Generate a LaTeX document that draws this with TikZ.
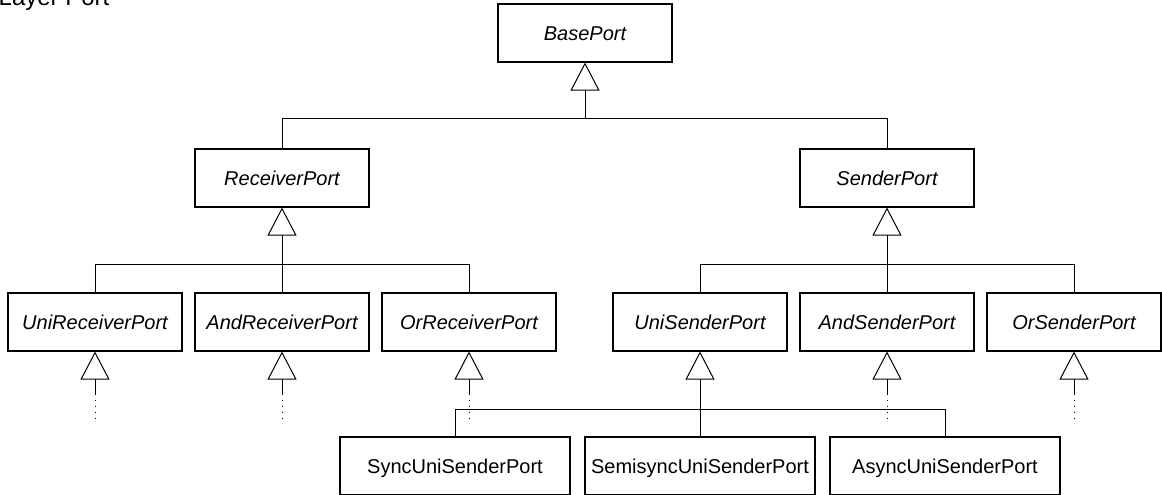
\documentclass[tikz,border=0pt]{standalone}
\usepackage{fontspec}
\setmainfont{Liberation Sans}
\usetikzlibrary{arrows.meta}
\tikzset{
  cls/.style={draw, line width=1.1pt, minimum width=174pt, minimum height=58pt,
    inner sep=0pt, font=\fontsize{20}{24}\selectfont, text height=14.3pt, text depth=0pt},
  abstract/.style={cls, font=\fontsize{20}{24}\selectfont\itshape},
  wide/.style={minimum width=230pt},
  link/.style={line width=1pt},
  inherit/.style={link, -{Triangle[open, length=28pt, width=29pt, line width=1pt]}},
  more/.style={line width=1pt, dash pattern=on 1pt off 5pt}
}
\begin{document}
\begin{tikzpicture}[x=1pt, y=-1pt]
\useasboundingbox (0,0) rectangle (1162,495);

\node[anchor=base west, font=\fontsize{24}{28}\selectfont, inner sep=0pt] (title) at (-1.5,6) {Layer Port};

% class boxes
\node[abstract] (base) at (585,33) {BasePort};
\node[abstract] (recv) at (282,178) {ReceiverPort};
\node[abstract] (send) at (887,178) {SenderPort};
\node[abstract] (urecv) at (95,322) {UniReceiverPort};
\node[abstract] (arecv) at (282,322) {AndReceiverPort};
\node[abstract] (orecv) at (469,322) {OrReceiverPort};
\node[abstract] (usend) at (700,322) {UniSenderPort};
\node[abstract] (asend) at (887,322) {AndSenderPort};
\node[abstract] (osend) at (1074,322) {OrSenderPort};
\node[cls, wide] (sync) at (455,466) {SyncUniSenderPort};
\node[cls, wide] (semi) at (700,466) {SemisyncUniSenderPort};
\node[cls, wide] (async) at (945,466) {AsyncUniSenderPort};

% junction points of the generalisation trees
\coordinate (baseJ) at (585,118);
\coordinate (recvJ) at (282,264);
\coordinate (sendJ) at (887,264);
\coordinate (usendJ) at (700,409);

\draw[inherit] (baseJ) -- (base.south);
\draw[link] (recv.north) |- (baseJ);
\draw[link] (send.north) |- (baseJ);

\draw[inherit] (recvJ) -- (recv.south);
\draw[link] (urecv.north) |- (recvJ);
\draw[link] (arecv.north) -- (recvJ);
\draw[link] (orecv.north) |- (recvJ);

\draw[inherit] (sendJ) -- (send.south);
\draw[link] (usend.north) |- (sendJ);
\draw[link] (asend.north) -- (sendJ);
\draw[link] (osend.north) |- (sendJ);

\draw[inherit] (usendJ) -- (usend.south);
\draw[link] (sync.north) |- (usendJ);
\draw[link] (semi.north) -- (usendJ);
\draw[link] (async.north) |- (usendJ);

% further subclasses, elided
\foreach \c in {urecv, arecv, orecv, asend, osend} {
  \coordinate (\c M) at ([yshift=-42pt]\c.south);
  \coordinate (\c E) at ([yshift=-67pt]\c.south);
  \draw[inherit] (\c M) -- (\c.south);
  \draw[more] (\c M) -- (\c E);
}
\end{tikzpicture}
\end{document}
